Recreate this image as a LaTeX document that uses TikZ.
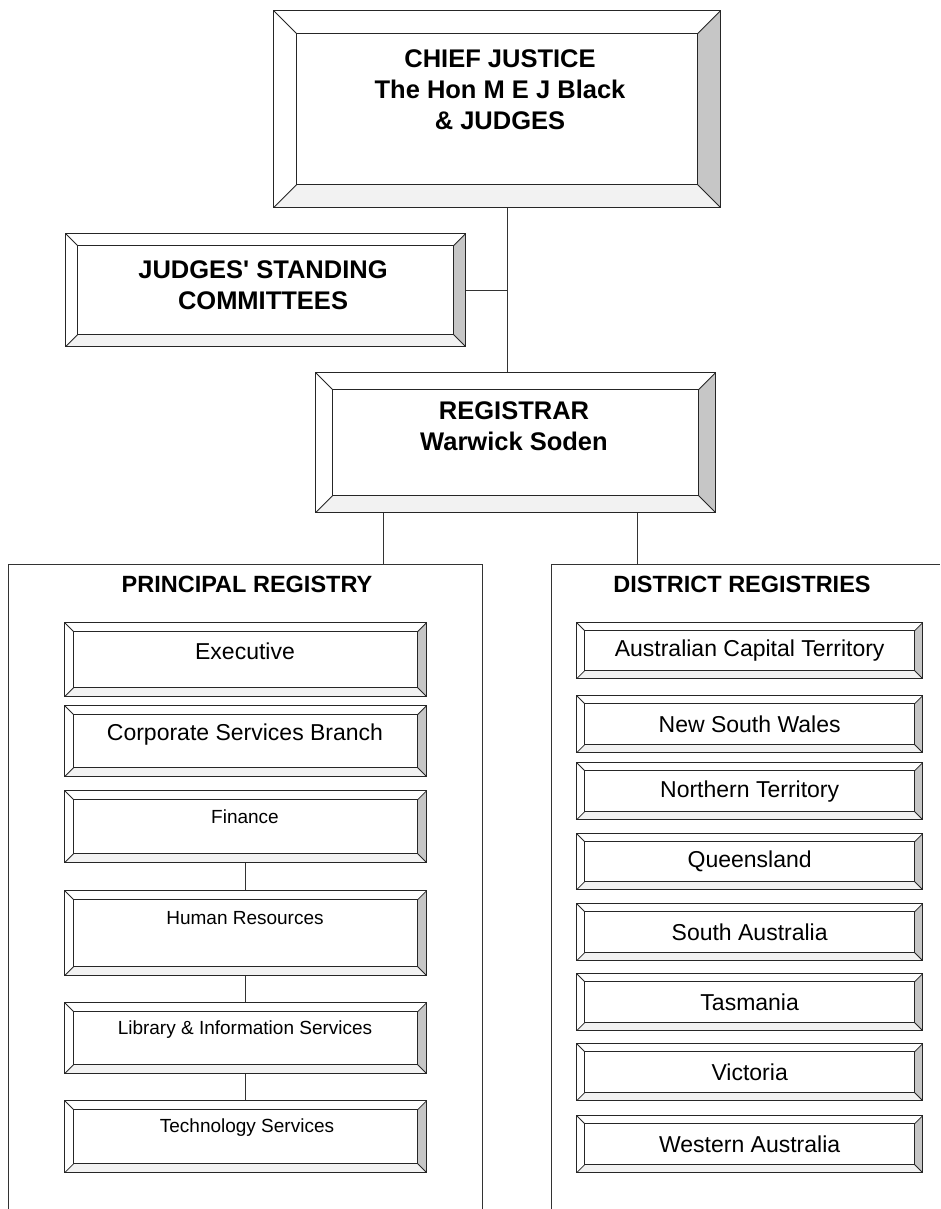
\documentclass[tikz,border=0pt]{standalone}
\usepackage{fontspec}
\setmainfont{Liberation Sans}
\begin{document}
\begin{tikzpicture}[x=1pt,y=-1pt,
  bev/.store in=\bevsz, bev=9pt,
  bbox/.style={draw=black!85, line width=1.3pt, fill=white, inner sep=0pt, anchor=north west,
    path picture={
      \coordinate (pNW) at (path picture bounding box.north west);
      \coordinate (pNE) at (path picture bounding box.north east);
      \coordinate (pSW) at (path picture bounding box.south west);
      \coordinate (pSE) at (path picture bounding box.south east);
      \fill[gray!10] (pSW) -- (pSE) -- ([xshift=-\bevsz,yshift=\bevsz]pSE) -- ([xshift=\bevsz,yshift=\bevsz]pSW) -- cycle;
      \fill[gray!45] (pNE) -- (pSE) -- ([xshift=-\bevsz,yshift=\bevsz]pSE) -- ([xshift=-\bevsz,yshift=-\bevsz]pNE) -- cycle;
      \draw[line width=1.1pt, black!85] ([xshift=\bevsz,yshift=-\bevsz]pNW) rectangle ([xshift=-\bevsz,yshift=\bevsz]pSE);
      \draw[line width=0.8pt, black!85] (pNW) -- ([xshift=\bevsz,yshift=-\bevsz]pNW)
        (pNE) -- ([xshift=-\bevsz,yshift=-\bevsz]pNE)
        (pSW) -- ([xshift=\bevsz,yshift=\bevsz]pSW)
        (pSE) -- ([xshift=-\bevsz,yshift=\bevsz]pSE);
    }},
  head/.style={font=\bfseries\fontsize{25.5}{31}\selectfont, align=center, inner sep=0pt},
  sect/.style={font=\bfseries\fontsize{23.5}{26}\selectfont, inner sep=0pt},
  big/.style={font=\fontsize{23}{27}\selectfont, inner sep=0pt},
  small/.style={font=\fontsize{19}{23}\selectfont, inner sep=0pt},
  dist/.style={font=\fontsize{23}{26}\selectfont, inner sep=0pt},
  conn/.style={draw=black!80, line width=1pt},
  cont/.style={draw=black!80, line width=1pt}
]
\useasboundingbox[fill=white] (0,0) rectangle (940,1209);

% top level boxes
\node[bbox, bev=23pt, minimum width=447pt, minimum height=197pt] (cj) at (273,10) {};
\node[head] (cjt) at (500,90) {CHIEF JUSTICE\\The Hon M E J Black\\\& JUDGES};

\node[bbox, bev=12pt, minimum width=400pt, minimum height=113pt] (jsc) at (65,233) {};
\node[head] (jsct) at (263,285) {JUDGES\textquotesingle{} STANDING\\COMMITTEES};

\node[bbox, bev=17pt, minimum width=400pt, minimum height=140pt] (reg) at (315,372) {};
\node[head] (regt) at (514,426) {REGISTRAR\\Warwick Soden};

% connectors top
\coordinate (mid) at (507,289);
\draw[conn] (cj.south -| mid) -- (reg.north -| mid);
\draw[conn] (jsc.east) -- (jsc.east -| mid);

% containers
\coordinate (prT) at (383,564);
\coordinate (drT) at (637,564);
\coordinate (prA) at (8,1209);
\coordinate (prB) at (8,564);
\coordinate (prC) at (482,564);
\coordinate (prD) at (482,1209);
\coordinate (drA) at (551,1209);
\coordinate (drB) at (551,564);
\coordinate (drC) at (940,564);
\draw[cont] (prA) -- (prB) -- (prC) -- (prD);
\draw[cont] (drA) -- (drB) -- (drC);
\draw[conn] (reg.south -| prT) -- (prT);
\draw[conn] (reg.south -| drT) -- (drT);

\node[sect] (prt) at (247,584) {PRINCIPAL REGISTRY};
\node[sect] (drt) at (742,584) {DISTRICT REGISTRIES};

% principal registry boxes
\node[bbox, minimum width=362pt, minimum height=74pt] (exec) at (64,622) {};
\node[big] (exect) at (245,651) {Executive};
\node[bbox, minimum width=362pt, minimum height=71pt] (corp) at (64,705) {};
\node[big] (corpt) at (245,735) {Corporate Services Branch};
\node[bbox, minimum width=362pt, minimum height=72pt] (fin) at (64,790) {};
\node[small] (fint) at (245,817) {Finance};
\node[bbox, minimum width=362pt, minimum height=85pt] (hr) at (64,890) {};
\node[small] (hrt) at (245,918) {Human Resources};
\node[bbox, minimum width=362pt, minimum height=71pt] (lib) at (64,1002) {};
\node[small] (libt) at (245,1030) {Library \& Information Services};
\node[bbox, minimum width=362pt, minimum height=72pt] (tech) at (64,1100) {};
\node[small] (techt) at (247,1128) {Technology Services};

\draw[conn] (fin.south) -- (hr.north);
\draw[conn] (hr.south) -- (lib.north);
\draw[conn] (lib.south) -- (tech.north);

% district registries boxes
\node[bbox, bev=8pt, minimum width=346pt, minimum height=56pt] (act) at (576,622) {};
\node[dist] at (act.center) {Australian Capital Territory};
\node[bbox, bev=8pt, minimum width=346pt, minimum height=57pt] (nsw) at (576,695) {};
\node[dist] at (nsw.center) {New South Wales};
\node[bbox, bev=8pt, minimum width=346pt, minimum height=57pt] (nt) at (576,762) {};
\node[dist] at (nt.center) {Northern Territory};
\node[bbox, bev=8pt, minimum width=346pt, minimum height=56pt] (qld) at (576,833) {};
\node[dist] at (qld.center) {Queensland};
\node[bbox, bev=8pt, minimum width=346pt, minimum height=57pt] (sa) at (576,903) {};
\node[dist] at (sa.center) {South Australia};
\node[bbox, bev=8pt, minimum width=346pt, minimum height=57pt] (tas) at (576,973) {};
\node[dist] at (tas.center) {Tasmania};
\node[bbox, bev=8pt, minimum width=346pt, minimum height=57pt] (vic) at (576,1043) {};
\node[dist] at (vic.center) {Victoria};
\node[bbox, bev=8pt, minimum width=346pt, minimum height=57pt] (wa) at (576,1115) {};
\node[dist] at (wa.center) {Western Australia};
\end{tikzpicture}
\end{document}
